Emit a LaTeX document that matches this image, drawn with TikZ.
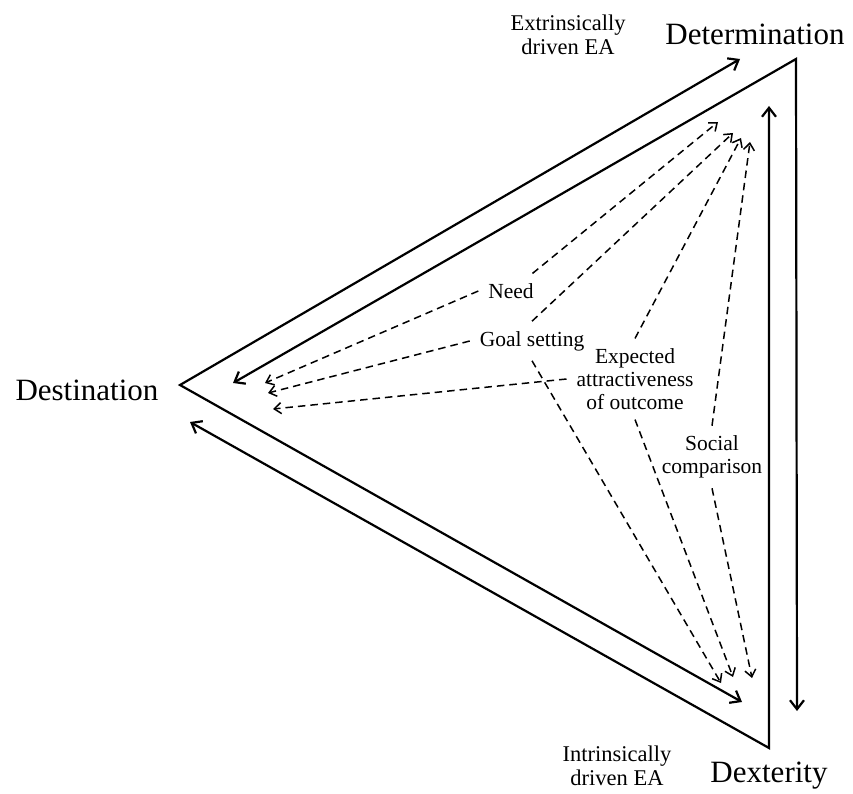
\documentclass[tikz,border=0pt]{standalone}
\usepackage{fontspec}
\setmainfont{Liberation Serif}
\usetikzlibrary{arrows.meta}

\tikzset{
  sidearrow/.style={line width=2.2pt, line join=miter,
    {Straight Barb[length=9pt,width=14pt]}-{Straight Barb[length=9pt,width=14pt]}},
  linkarrow/.style={line width=1.5pt, dash pattern=on 7.5pt off 5pt,
    -{Straight Barb[length=7pt,width=11pt]}},
  cuebox/.style={font=\fontsize{21.5}{23}\selectfont, align=center,
    inner sep=6pt, outer sep=4pt},
  vertexlabel/.style={font=\fontsize{31}{36}\selectfont, anchor=base, inner sep=0pt},
  drivelabel/.style={font=\fontsize{22.5}{24.5}\selectfont, align=center, inner sep=0pt},
}

\begin{document}
\begin{tikzpicture}[x=1pt,y=-1pt]
  \useasboundingbox (0,0) rectangle (853,794);

  % corners of the triangle
  \coordinate (dest) at (180,385);
  \coordinate (dete) at (796,59);
  \coordinate (dext) at (769,748);

  % ends of the solid arrows
  \coordinate (destToDete) at (740,59);
  \coordinate (destToDext) at (742,702);
  \coordinate (deteToDest) at (233,383);
  \coordinate (deteToDext) at (797,711);
  \coordinate (dextToDete) at (769,106);
  \coordinate (dextToDest) at (190,422);

  % ends of the dashed arrows
  \coordinate (tNeed)   at (718,122);
  \coordinate (tGoal)   at (733,133);
  \coordinate (tExpct)  at (741,138);
  \coordinate (tSocial) at (750,142);
  \coordinate (lNeed)   at (265,383);
  \coordinate (lGoal)   at (268,393);
  \coordinate (lExpct)  at (273,409);
  \coordinate (bGoal)   at (721,683);
  \coordinate (bExpct)  at (733,677);
  \coordinate (bSocial) at (752,678);

  % corner names
  \node[vertexlabel] (detLabel) at (755,45)  {Determination};
  \node[vertexlabel] (desLabel) at (87,400)  {Destination};
  \node[vertexlabel] (dexLabel) at (769,782) {Dexterity};

  \node[drivelabel] (extr) at (568,35)  {Extrinsically\\driven EA};
  \node[drivelabel] (intr) at (617,766) {Intrinsically\\driven EA};

  % each corner sends two arrows
  \draw[sidearrow] (destToDete) -- (dest) -- (destToDext);
  \draw[sidearrow] (deteToDest) -- (dete) -- (deteToDext);
  \draw[sidearrow] (dextToDete) -- (dext) -- (dextToDest);

  % factors
  \node[cuebox] (need)   at (511,291) {Need};
  \node[cuebox] (goal)   at (532,341) {Goal setting};
  \node[cuebox] (expct)  at (635,379) {Expected\\attractiveness\\of outcome};
  \node[cuebox] (social) at (712,457) {Social\\comparison};

  \draw[linkarrow] (need) -- (tNeed);
  \draw[linkarrow] (need.west) -- (lNeed);

  \draw[linkarrow] (goal.north) -- (tGoal);
  \draw[linkarrow] (goal.west) -- (lGoal);
  \draw[linkarrow] (goal.south) -- (bGoal);

  \draw[linkarrow] (expct.north) -- (tExpct);
  \draw[linkarrow] (expct.west) -- (lExpct);
  \draw[linkarrow] (expct.south) -- (bExpct);

  \draw[linkarrow] (social.north) -- (tSocial);
  \draw[linkarrow] (social.south) -- (bSocial);
\end{tikzpicture}
\end{document}
